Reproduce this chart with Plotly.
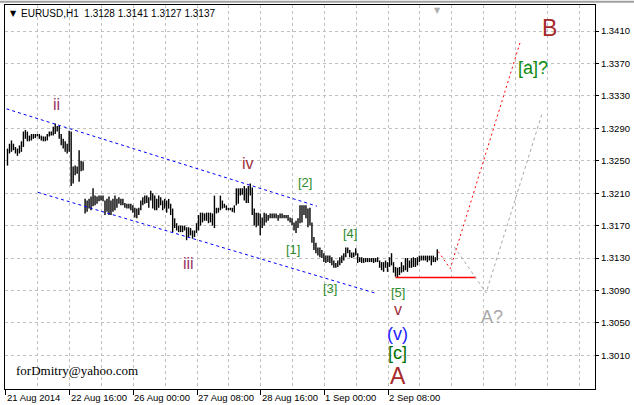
import plotly.graph_objects as go

# ---------------- data ----------------
chart_title = "EURUSD,H1  1.3128 1.3141 1.3127 1.3137"
credit = "forDmitry@yahoo.com"

# hourly bars, index 1..217 (one unit = one H1 bar)
bar_high = [
    1.3265, 1.3271, 1.3275, 1.3271, 1.3267, 1.3265, 1.3269, 1.3274, 1.3286, 1.3288,
    1.3286, 1.3281, 1.3283, 1.3283, 1.3283, 1.3283, 1.3283, 1.3281, 1.3280, 1.3280,
    1.3283, 1.3286, 1.3286, 1.3292, 1.3296, 1.3293, 1.3293, 1.3283, 1.3277, 1.3274,
    1.3271, 1.3287, 1.3286, 1.3243, 1.3244, 1.3243, 1.3263, 1.3250, 1.3249, 1.3203,
    1.3201, 1.3203, 1.3206, 1.3216, 1.3207, 1.3206, 1.3207, 1.3207, 1.3207, 1.3201,
    1.3203, 1.3206, 1.3201, 1.3203, 1.3207,
    1.3203, 1.3205, 1.3203, 1.3203, 1.3198, 1.3197, 1.3197, 1.3197, 1.3195, 1.3192,
    1.3191, 1.3192, 1.3201, 1.3205, 1.3207, 1.3207, 1.3205, 1.3213, 1.3210, 1.3207,
    1.3203, 1.3207, 1.3205, 1.3201, 1.3203, 1.3201, 1.3203, 1.3197, 1.3191, 1.3179,
    1.3173, 1.3170, 1.3170, 1.3170, 1.3170, 1.3168, 1.3168, 1.3167, 1.3164, 1.3164,
    1.3173, 1.3183, 1.3186, 1.3186, 1.3185, 1.3186, 1.3186, 1.3186, 1.3185, 1.3207,
    1.3192, 1.3192, 1.3207, 1.3201, 1.3197,
    1.3195, 1.3192, 1.3192, 1.3192, 1.3195, 1.3216, 1.3216, 1.3216, 1.3216, 1.3219,
    1.3216, 1.3219, 1.3222, 1.3217, 1.3191, 1.3186, 1.3186, 1.3185, 1.3180, 1.3186,
    1.3185, 1.3183, 1.3185, 1.3185, 1.3185, 1.3185, 1.3183, 1.3185, 1.3185, 1.3183,
    1.3183, 1.3183, 1.3180, 1.3179, 1.3174, 1.3176, 1.3179, 1.3195, 1.3195, 1.3195,
    1.3195, 1.3191, 1.3192, 1.3174, 1.3156, 1.3149, 1.3143, 1.3143, 1.3140, 1.3136,
    1.3133, 1.3133, 1.3133, 1.3131, 1.3127,
    1.3124, 1.3127, 1.3131, 1.3133, 1.3136, 1.3143, 1.3143, 1.3140, 1.3137, 1.3137,
    1.3142, 1.3136, 1.3131, 1.3131, 1.3130, 1.3130, 1.3130, 1.3130, 1.3130, 1.3130,
    1.3130, 1.3131, 1.3127, 1.3125, 1.3125, 1.3127, 1.3125, 1.3131, 1.3136, 1.3125,
    1.3119, 1.3118, 1.3119, 1.3125, 1.3121, 1.3130, 1.3130, 1.3127, 1.3130, 1.3131,
    1.3130, 1.3131, 1.3133, 1.3133, 1.3133, 1.3133, 1.3133, 1.3133, 1.3133, 1.3133,
    1.3131, 1.3141,
]
bar_low = [
    1.3244, 1.3259, 1.3261, 1.3263, 1.3259, 1.3256, 1.3259, 1.3261, 1.3267, 1.3277,
    1.3274, 1.3274, 1.3275, 1.3277, 1.3278, 1.3280, 1.3277, 1.3275, 1.3274, 1.3274,
    1.3275, 1.3280, 1.3281, 1.3281, 1.3283, 1.3286, 1.3277, 1.3269, 1.3265, 1.3261,
    1.3259, 1.3261, 1.3219, 1.3222, 1.3232, 1.3234, 1.3224, 1.3237, 1.3238, 1.3185,
    1.3187, 1.3191, 1.3189, 1.3194, 1.3195, 1.3197, 1.3200, 1.3201, 1.3200, 1.3183,
    1.3187, 1.3183, 1.3183, 1.3187, 1.3189,
    1.3192, 1.3197, 1.3195, 1.3195, 1.3192, 1.3191, 1.3191, 1.3189, 1.3186, 1.3180,
    1.3179, 1.3183, 1.3189, 1.3195, 1.3197, 1.3198, 1.3192, 1.3201, 1.3191, 1.3189,
    1.3189, 1.3192, 1.3195, 1.3189, 1.3191, 1.3186, 1.3191, 1.3183, 1.3162, 1.3167,
    1.3164, 1.3162, 1.3162, 1.3162, 1.3164, 1.3152, 1.3156, 1.3158, 1.3154, 1.3156,
    1.3161, 1.3164, 1.3170, 1.3174, 1.3176, 1.3176, 1.3173, 1.3174, 1.3170, 1.3167,
    1.3185, 1.3186, 1.3189, 1.3191, 1.3192,
    1.3189, 1.3189, 1.3189, 1.3187, 1.3186, 1.3195, 1.3197, 1.3207, 1.3208, 1.3201,
    1.3198, 1.3198, 1.3207, 1.3183, 1.3170, 1.3168, 1.3170, 1.3158, 1.3167, 1.3170,
    1.3174, 1.3176, 1.3179, 1.3179, 1.3179, 1.3179, 1.3176, 1.3179, 1.3179, 1.3179,
    1.3179, 1.3176, 1.3174, 1.3170, 1.3164, 1.3161, 1.3167, 1.3173, 1.3174, 1.3183,
    1.3179, 1.3168, 1.3170, 1.3149, 1.3140, 1.3136, 1.3133, 1.3131, 1.3130, 1.3125,
    1.3124, 1.3125, 1.3124, 1.3121, 1.3118,
    1.3118, 1.3119, 1.3121, 1.3124, 1.3127, 1.3131, 1.3136, 1.3131, 1.3130, 1.3131,
    1.3133, 1.3124, 1.3125, 1.3124, 1.3124, 1.3125, 1.3125, 1.3125, 1.3125, 1.3124,
    1.3125, 1.3125, 1.3118, 1.3115, 1.3113, 1.3118, 1.3113, 1.3119, 1.3121, 1.3112,
    1.3107, 1.3106, 1.3109, 1.3112, 1.3113, 1.3115, 1.3113, 1.3118, 1.3118, 1.3119,
    1.3119, 1.3121, 1.3125, 1.3127, 1.3127, 1.3127, 1.3125, 1.3127, 1.3121, 1.3125,
    1.3125, 1.3127,
]
bar_index = list(range(1, len(bar_high) + 1))

price_ticks = [1.3010, 1.3050, 1.3090, 1.3130, 1.3170, 1.3210, 1.3250,
               1.3290, 1.3330, 1.3370, 1.3410]
time_label_pos = [0, 32.25, 64.25, 96.25, 128.25, 160.25, 192.25]
time_labels = ["21 Aug 2014", "22 Aug 16:00", "26 Aug 00:00", "27 Aug 08:00",
               "28 Aug 16:00", "1 Sep 00:00", "2 Sep 08:00"]
grid_pos = [16.25, 32.25, 48.25, 64.25, 80.25, 96.25, 112.25, 128.25, 144.25,
            160.25, 176.25, 192.25, 208.25, 224.25, 240.25, 256.25, 272.25, 288.25]

# channel lines (bar index, price)
upper_chan_x = [0.5, 156.5]
upper_chan_y = [1.3314, 1.3194]
lower_chan_x = [16.35, 185.5]
lower_chan_y = [1.3211, 1.3087]
# support level
support_x = [196, 236.5]
support_y = [1.3106, 1.3106]
# projected paths
red_path_x = [217.5, 223.5, 259]
red_path_y = [1.3138, 1.3117, 1.3399]
gray_path_x = [225.5, 241.5, 269.5]
gray_path_y = [1.3144, 1.3087, 1.3307]

# wave labels: text, bar index, price, colour, size
wave_labels = [
    ("ii", 25.5, 1.3320, "#993366", 16),
    ("iii", 92, 1.31235, "#993366", 16),
    ("iv", 122, 1.32465, "#A0303C", 16),
    ("v", 197, 1.3066, "#A0303C", 16),
    ("[1]", 144.5, 1.3141, "#2E8B2E", 13),
    ("[2]", 150.5, 1.3223, "#2E8B2E", 13),
    ("[3]", 163, 1.3093, "#2E8B2E", 13),
    ("[4]", 173, 1.3160, "#2E8B2E", 13),
    ("[5]", 197, 1.3087, "#2E8B2E", 13),
    ("(v)", 197, 1.3036, "#1E1EFF", 18),
    ("[c]", 197, 1.3013, "#007000", 18),
    ("A", 197, 1.2985, "#A52A2A", 23),
    ("B", 273.5, 1.3414, "#A52A2A", 23),
    ("[a]?", 265, 1.33646, "#0A8A0A", 18),
    ("A?", 244.5, 1.3057, "#A8A8A8", 18),
]

# ---------------- figure ----------------
fig = go.Figure()

bx, by = [], []
for xi, lo, hi in zip(bar_index, bar_low, bar_high):
    bx += [xi, xi, None]
    by += [lo, hi, None]
fig.add_trace(go.Scatter(x=bx, y=by, mode="lines",
                         line=dict(color="black", width=1.4),
                         hoverinfo="skip", showlegend=False))

fig.add_trace(go.Scatter(x=upper_chan_x, y=upper_chan_y, mode="lines",
                         line=dict(color="#0000FF", width=1, dash="3px,3px"),
                         showlegend=False))
fig.add_trace(go.Scatter(x=lower_chan_x, y=lower_chan_y, mode="lines",
                         line=dict(color="#0000FF", width=1, dash="3px,3px"),
                         showlegend=False))
fig.add_trace(go.Scatter(x=support_x, y=support_y, mode="lines",
                         line=dict(color="#FF0000", width=1.5),
                         showlegend=False))
fig.add_trace(go.Scatter(x=red_path_x, y=red_path_y, mode="lines",
                         line=dict(color="#FF0000", width=1, dash="2px,3px"),
                         showlegend=False))
fig.add_trace(go.Scatter(x=gray_path_x, y=gray_path_y, mode="lines",
                         line=dict(color="#A8A8A8", width=1, dash="3px,3px"),
                         showlegend=False))

annotations = []
for txt, xv, yv, col, sz in wave_labels:
    annotations.append(dict(x=xv, y=yv, xref="x", yref="y", text=txt,
                            showarrow=False,
                            font=dict(family="Liberation Sans", size=sz, color=col)))

for pos, lab in zip(time_label_pos, time_labels):
    annotations.append(dict(x=pos, y=0, xref="x", yref="paper", text=lab,
                            xanchor="left", yanchor="top", xshift=-1, yshift=-1,
                            showarrow=False,
                            font=dict(family="Liberation Sans", size=9.5, color="black")))

annotations.append(dict(x=0.0, y=1.0, xref="paper", yref="paper", text="▼",
                        showarrow=False, xanchor="left", yanchor="middle",
                        xshift=3, yshift=-8,
                        font=dict(family="DejaVu Sans", size=8, color="black")))
annotations.append(dict(x=0.0, y=1.0, xref="paper", yref="paper", text=chart_title,
                        showarrow=False, xanchor="left", yanchor="middle",
                        xshift=14, yshift=-8,
                        font=dict(family="Liberation Sans", size=10, color="black")))
annotations.append(dict(x=0.0, y=0.0, xref="paper", yref="paper", text=credit,
                        showarrow=False, xanchor="left", yanchor="middle",
                        xshift=9, yshift=19,
                        font=dict(family="Liberation Serif", size=13, color="black")))
annotations.append(dict(x=217.25, y=1.0, xref="x", yref="paper", text="▼",
                        showarrow=False, xanchor="center", yanchor="top", yshift=1,
                        font=dict(family="DejaVu Sans", size=8, color="#B0B0B0")))

fig.update_layout(
    width=634, height=405,
    margin=dict(l=4, r=37, t=4, b=16),
    paper_bgcolor="white", plot_bgcolor="white",
    annotations=annotations,
    showlegend=False,
    xaxis=dict(range=[-0.25, 296.25], showline=True, linecolor="black", linewidth=1,
               mirror=True, zeroline=False,
               tickmode="array", tickvals=time_label_pos, ticktext=[""] * len(time_label_pos),
               ticks="outside", ticklen=5, tickcolor="black", showticklabels=False,
               showgrid=True, gridcolor="#C0C0C0", griddash="3px,3px", gridwidth=1,
               minor=dict(tickmode="array", tickvals=grid_pos, showgrid=True,
                          gridcolor="#C0C0C0", griddash="3px,3px", ticks="")),
    yaxis=dict(range=[1.29685, 1.34421], side="right", showline=True,
               linecolor="black", linewidth=1, mirror=True, zeroline=False,
               tickmode="array", tickvals=price_ticks,
               ticktext=[f"{v:.4f}" for v in price_ticks],
               ticks="outside", ticklen=3, tickcolor="black",
               tickfont=dict(family="Liberation Sans", size=9.5, color="black"),
               showgrid=True, gridcolor="#C0C0C0", griddash="3px,3px", gridwidth=1),
    shapes=[dict(type="line", xref="paper", yref="paper", x0=-0.01, x1=1.07,
                 y0=1.0 + 3.2 / 385, y1=1.0 + 3.2 / 385,
                 line=dict(color="#A0A0A0", width=2))],
)

fig.write_html("out.html", config={"displayModeBar": False},
               post_script="document.body.style.margin='0';document.body.style.padding='0';")
